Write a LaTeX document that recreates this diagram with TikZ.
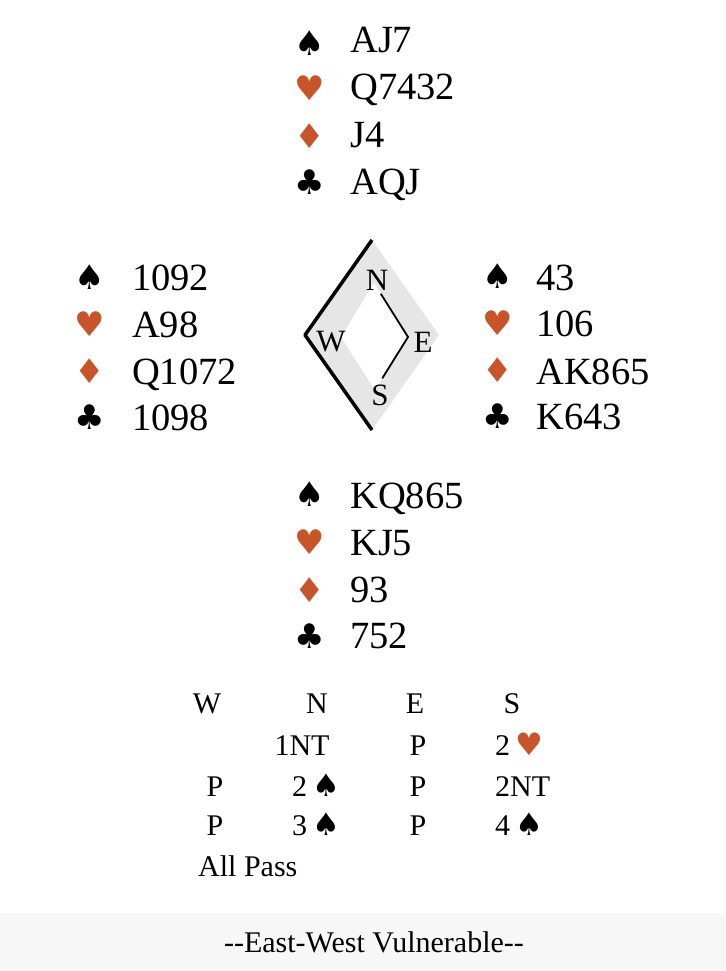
\documentclass[tikz,border=0pt]{standalone}
\usepackage{fontspec}
\usetikzlibrary{calc}
\setmainfont{Liberation Serif}
\newfontfamily\suitfont{DejaVu Sans}
\definecolor{redsuit}{HTML}{C8542A}
\definecolor{compassgray}{HTML}{E6E6E6}
\definecolor{footgray}{HTML}{F7F7F7}
\newcommand{\spd}{{\suitfont\fontsize{31}{31}\selectfont ♠}}
\newcommand{\hrt}{{\suitfont\fontsize{31}{31}\selectfont\color{redsuit}♥}}
\begin{document}
\begin{tikzpicture}[x=1pt,y=-1pt,
  cards/.style={anchor=base west,inner sep=0pt,font=\fontsize{38.5}{38.5}\selectfont},
  blacksuit/.style={inner sep=0pt,font=\suitfont\fontsize{34}{34}\selectfont},
  redsuit/.style={blacksuit,text=redsuit},
  bid/.style={anchor=base,inner sep=0pt,font=\fontsize{30}{30}\selectfont},
  seat/.style={inner sep=0pt,font=\fontsize{31}{31}\selectfont}]
\useasboundingbox (0,0) rectangle (725,971);
% North
\node[blacksuit] (ns) at (310,43) {♠}; \node[cards] (nS) at (350,53) {AJ7};
\node[redsuit] (nh) at (310,88) {♥}; \node[cards] (nH) at (350,100) {Q7432};
\node[redsuit] (nd) at (310,136) {♦}; \node[cards] (nD) at (350,147) {J4};
\node[blacksuit] (nc) at (310,182) {♣}; \node[cards] (nC) at (350,194) {AQJ};
% West
\node[blacksuit] (ws) at (90,277) {♠}; \node[cards] (wS) at (132,290) {1092};
\node[redsuit] (wh) at (90,324) {♥}; \node[cards] (wH) at (132,337) {A98};
\node[redsuit] (wd) at (90,371) {♦}; \node[cards] (wD) at (132,384) {Q1072};
\node[blacksuit] (wc) at (90,417) {♣}; \node[cards] (wC) at (132,430) {1098};
% East
\node[blacksuit] (es) at (498,276) {♠}; \node[cards] (eS) at (536,290) {43};
\node[redsuit] (eh) at (498,323) {♥}; \node[cards] (eH) at (536,336) {106};
\node[redsuit] (ed) at (498,370) {♦}; \node[cards] (eD) at (536,384) {AK865};
\node[blacksuit] (ec) at (498,416) {♣}; \node[cards] (eC) at (536,429) {K643};
% South
\node[blacksuit] (ss) at (310,494) {♠}; \node[cards] (sS) at (350,508) {KQ865};
\node[redsuit] (sh) at (310,542) {♥}; \node[cards] (sH) at (350,555) {KJ5};
\node[redsuit] (sd) at (310,590) {♦}; \node[cards] (sD) at (350,602) {93};
\node[blacksuit] (sc) at (310,636) {♣}; \node[cards] (sC) at (350,648) {752};
% compass
\coordinate (T) at (372,240); \coordinate (L) at (305,335);
\coordinate (B) at (372,430); \coordinate (R) at (439,335);
\coordinate (t) at (374,283); \coordinate (l) at (341,337);
\coordinate (b) at (375,390); \coordinate (r) at (408,337);
\fill[compassgray] (T)--(R)--(B)--(L)--cycle;
\fill[white] (t)--(r)--(b)--(l)--cycle;
\draw[line width=3.5pt,line join=round] (T)--(L)--(B);
\draw[line width=1.8pt] ($(t)!0.2!(r)$)--(r)--($(b)!0.22!(r)$);
\node[seat] (cn) at (377,280) {N};
\node[seat] (cw) at (331,342) {W};
\node[seat] (ce) at (423,342) {E};
\node[seat] (cs) at (380,395) {S};
% auction
\node[bid] (hW) at (207,713) {W}; \node[bid] (hN) at (317,713) {N};
\node[bid] (hE) at (415,713) {E}; \node[bid] (hS) at (512,713) {S};
\node[bid] (b1) at (302,755) {1NT}; \node[bid] (b2) at (418,755) {P};
\node[bid,anchor=base west] (b3) at (495,755) {2\,\hrt};
\node[bid] (b4) at (215,796) {P}; \node[bid,anchor=base west] (b5) at (292,796) {2\,\spd};
\node[bid] (b6) at (418,796) {P}; \node[bid,anchor=base west] (b7) at (495,796) {2NT};
\node[bid] (b8) at (215,835) {P}; \node[bid,anchor=base west] (b9) at (292,835) {3\,\spd};
\node[bid] (b10) at (418,835) {P}; \node[bid,anchor=base west] (b11) at (495,835) {4\,\spd};
\node[bid,anchor=base west] (b12) at (198,876) {All Pass};
% vulnerability
\fill[footgray] (0,913) rectangle (725,971);
\node[inner sep=0pt,font=\fontsize{30}{30}\selectfont] (vul) at (374,942) {{-}{-}East-West Vulnerable{-}{-}};
\end{tikzpicture}
\end{document}
